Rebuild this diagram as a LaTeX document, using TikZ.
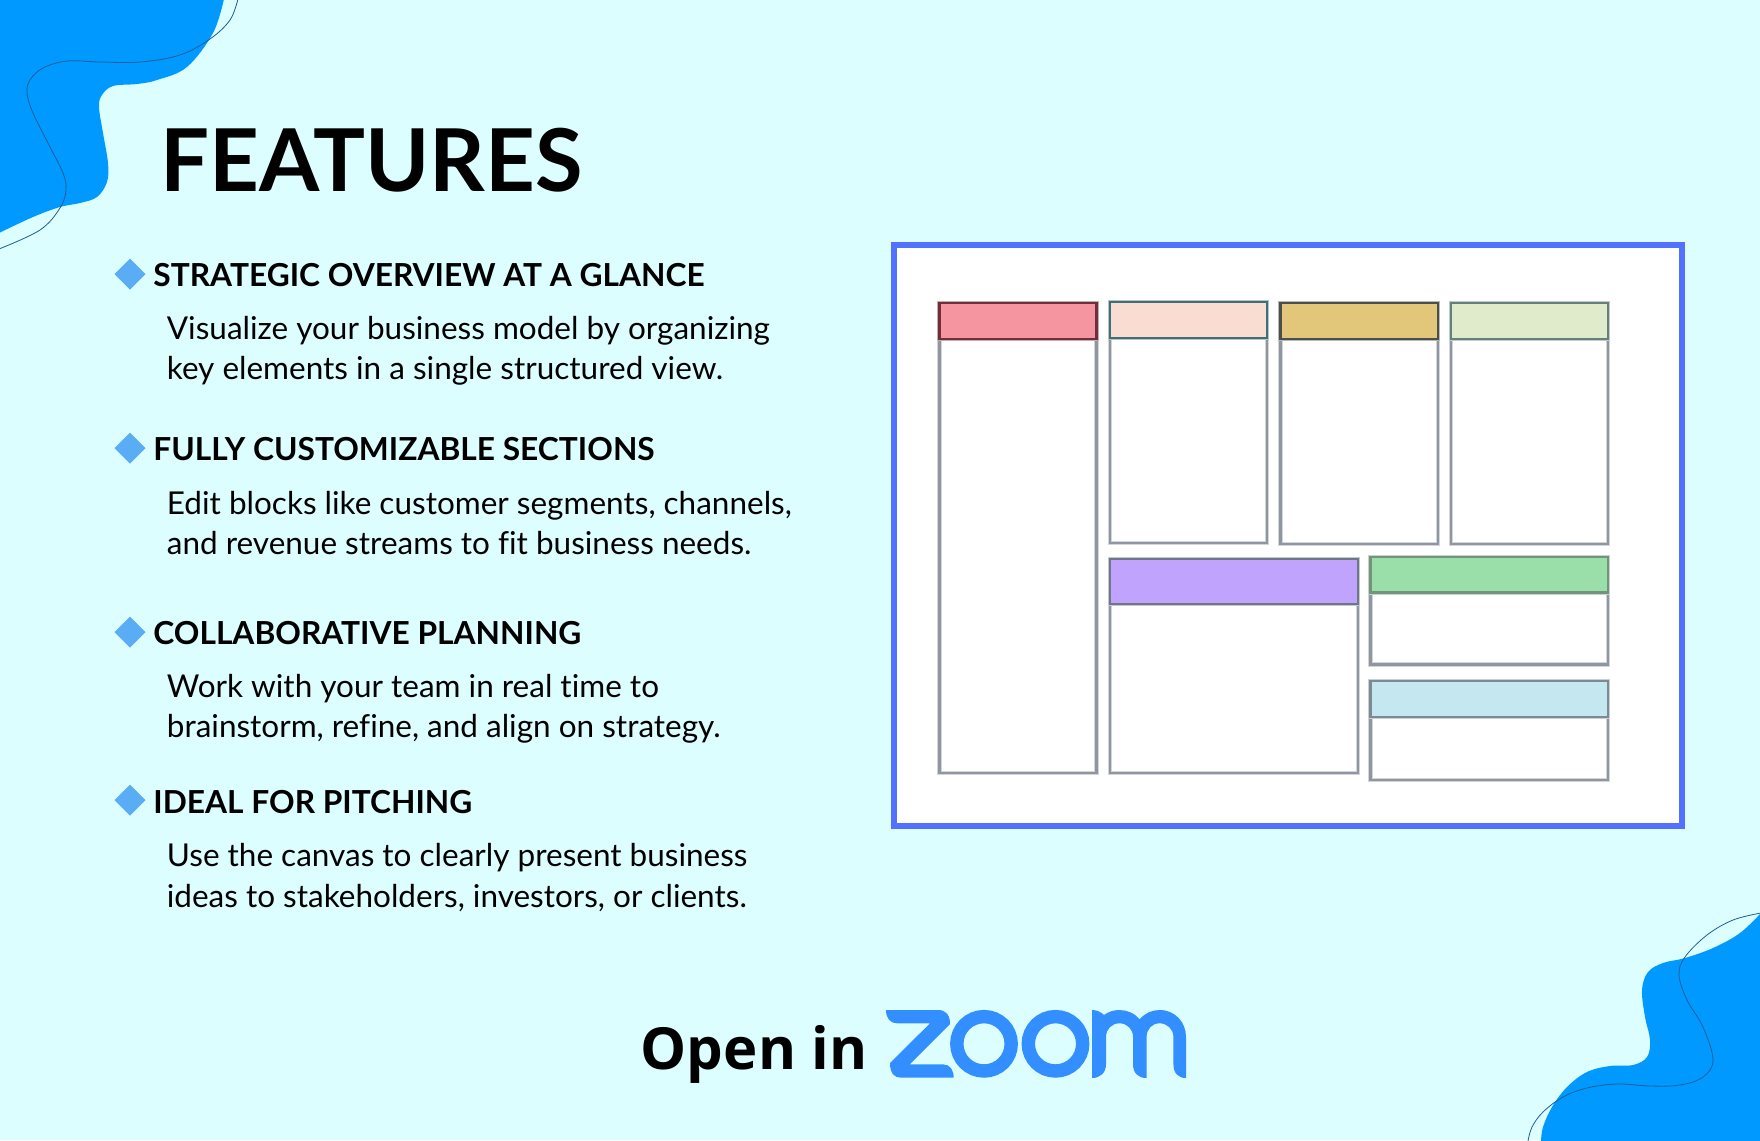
\documentclass[tikz,border=0pt]{standalone}
\usepackage{fontspec}
\setmainfont[Ligatures=CommonOff]{Lato}
\newfontfamily\openfont[LetterSpace=0.5]{Open Sans}
\definecolor{bgc}{HTML}{DDFEFF}
\definecolor{blobc}{HTML}{0099FF}
\definecolor{curvec}{HTML}{1B5E96}
\definecolor{framec}{HTML}{5271FF}
\definecolor{zoomc}{HTML}{338FFF}
\definecolor{diac}{HTML}{5AADF5}
\definecolor{boxc}{HTML}{8F96A0}
\tikzset{
  titletext/.style={font=\fontsize{43.35}{50}\selectfont\bfseries, inner sep=0, anchor=base west, text=black},
  headtext/.style={font=\fontsize{15.85}{20}\selectfont\bfseries, inner sep=0, anchor=base west, text=black},
  bodytext/.style={font=\fontsize{15.75}{20}\selectfont, inner sep=0, anchor=base west, align=left, text=black},
  bullet/.style={fill=diac},
  thincurve/.style={draw=curvec, line width=0.4pt},
  blurstroke/.style={draw=boxc!40, line width=2.3pt},
  cardbody/.style={draw=boxc, line width=1.3pt},
}
\newcommand{\cardbox}[7]{%
  % x0,y0,y1(header bottom),x1,y2(bottom),fill,stroke
  \definecolor{cardfill}{HTML}{#6}%
  \definecolor{cardline}{HTML}{#7}%
  \fill[white] (#1,#2) rectangle (#4,#5);
  \draw[blurstroke] (#1,#2) rectangle (#4,#5);
  \draw[cardbody] (#1,#2) rectangle (#4,#5);
  \draw[draw=cardline!40, line width=2.3pt] (#1,#2) rectangle (#4,#3);
  \path[fill=cardfill] (#1,#2) rectangle (#4,#3);
  \draw[draw=cardline, line width=1.3pt] (#1,#2) rectangle (#4,#3);
}
\newcommand{\bulletmark}[2]{\fill[bullet] (#1-15.5,#2) -- (#1,#2-15.5) -- (#1+15.5,#2) -- (#1,#2+15.5) -- cycle;}
\begin{document}
\begin{tikzpicture}[x=0.5pt,y=-0.5pt]
\useasboundingbox (0,0) rectangle (1760,1140);
\fill[bgc] (0,0) rectangle (1760,1140);
\begin{scope}
\clip (0,0) rectangle (1760,1140);
% top-left blob
\fill[blobc] plot[smooth,tension=0.6] coordinates {(224,-1)(213,33)(187,67)(157,80)(137,84)(113,86)(102,95)(99,107)(103,133)(108,163)(107,182)(97,197)(80,203)(60,207)(33,217)(-1,233)} -- (-1,-1) -- cycle;
\draw[thincurve] plot[smooth,tension=0.6] coordinates {(238,-1)(230,20)(210,39)(180,55)(140,62)(100,62)(67,61)(43,68)(30,80)(27,93)(33,113)(50,147)(63,173)(66,190)(60,208)(40,230)(-1,249)};
% bottom-right blob
\fill[blobc] plot[smooth,tension=0.6] coordinates {(1761,913)(1740,933)(1713,948)(1685,958)(1663,963)(1648,972)(1642,990)(1645,1017)(1650,1040)(1647,1057)(1633,1065)(1610,1066)(1587,1072)(1567,1087)(1552,1107)(1543,1127)(1541,1141)} -- (1761,1141) -- cycle;
\draw[thincurve] plot[smooth,tension=0.6] coordinates {(1761,913)(1733,920)(1707,935)(1685,957)(1679,975)(1687,1000)(1703,1027)(1713,1060)(1703,1077)(1680,1085)(1650,1086)(1617,1084)(1587,1088)(1563,1097)(1543,1112)(1532,1127)(1528,1141)};
\end{scope}
% title
\node[titletext] (title) at (160,191.5) {FEATURES};
% features
\bulletmark{130}{274}
\node[headtext] (h1) at (153,286) {STRATEGIC OVERVIEW AT A GLANCE};
\node[bodytext] (b1a) at (166.5,339.5) {Visualize your business model by organizing};
\node[bodytext] (b1b) at (166.5,379.5) {key elements in a single structured view.};
\bulletmark{130}{448}
\node[headtext] (h2) at (153,460.5) {FULLY CUSTOMIZABLE SECTIONS};
\node[bodytext] (b2a) at (166.5,514.5) {Edit blocks like customer segments, channels,};
\node[bodytext] (b2b) at (166.5,554.5) {and revenue streams to fit business needs.};
\bulletmark{130}{632}
\node[headtext] (h3) at (153,644.5) {COLLABORATIVE PLANNING};
\node[bodytext] (b3a) at (166.5,697.5) {Work with your team in real time to};
\node[bodytext] (b3b) at (166.5,737.5) {brainstorm, refine, and align on strategy.};
\bulletmark{130}{800}
\node[headtext] (h4) at (153,813) {IDEAL FOR PITCHING};
\node[bodytext] (b4a) at (166.5,866.5) {Use the canvas to clearly present business};
\node[bodytext] (b4b) at (166.5,907) {ideas to stakeholders, investors, or clients.};
% canvas panel
\draw[framec, line width=3pt, fill=white] (894,245) rectangle (1682,826);
\cardbox{939.5}{303}{339}{1096.6}{773}{F4959F}{6E2F3A}
\cardbox{1110}{302}{338}{1267}{543}{FADDD2}{3F6E74}
\cardbox{1280.6}{303}{339}{1437.8}{544}{E2C679}{4A4F4E}
\cardbox{1451}{303}{339}{1608}{544}{E0EBCB}{63807A}
\cardbox{1110}{559}{604}{1358}{773}{BFA3FC}{6F7686}
\cardbox{1370.5}{557}{592.5}{1608}{664.5}{9ADEAA}{74937F}
\cardbox{1370.5}{681}{717}{1608}{780}{C5E7F0}{7C8A94}
% open in zoom
\node[inner sep=0, anchor=base west, font=\fontsize{29}{34}\selectfont\bfseries\openfont] (open) at (640,1069.5) {Open in};
% logo
\fill[zoomc] (886,1010) -- (938,1010) .. controls (946,1010) and (950,1015) .. (950,1024) -- (909.7,1064.3) -- (943,1064.3) .. controls (950,1064.3) and (953.7,1070) .. (953.7,1077.7) -- (901,1077.7) .. controls (894,1077.7) and (890,1073) .. (890,1063) -- (930,1023.3) -- (897,1023.3) .. controls (890,1023.3) and (886,1018) .. (886,1010) -- cycle;
\draw[zoomc, line width=6.7pt] (984,1043.8) circle[radius=13.6pt];
\draw[zoomc, line width=6.7pt] (1055.5,1043.8) circle[radius=13.6pt];
\fill[zoomc] (1092,1010) .. controls (1097,1010) and (1101,1012) .. (1104,1015) .. controls (1108,1012) and (1113,1010) .. (1119.4,1010) .. controls (1127,1010) and (1134,1013) .. (1139.7,1019.3) .. controls (1145,1013) and (1152,1010) .. (1159.6,1010) .. controls (1175,1010) and (1186,1022) .. (1186,1037) -- (1186,1078) .. controls (1178,1078) and (1173.4,1073) .. (1173.4,1064) -- (1173.4,1037) .. controls (1173.4,1029) and (1167,1023.3) .. (1159.6,1023.3) .. controls (1152,1023.3) and (1146.6,1029) .. (1146.6,1037) -- (1146.6,1078) .. controls (1138,1078) and (1133,1073) .. (1133,1064) -- (1133,1037) .. controls (1133,1029) and (1127,1023.3) .. (1119.4,1023.3) .. controls (1112,1023.3) and (1106,1029) .. (1106,1037) -- (1106,1064) .. controls (1106,1073) and (1100,1078) .. (1092,1078) -- cycle;
\end{tikzpicture}
\end{document}
